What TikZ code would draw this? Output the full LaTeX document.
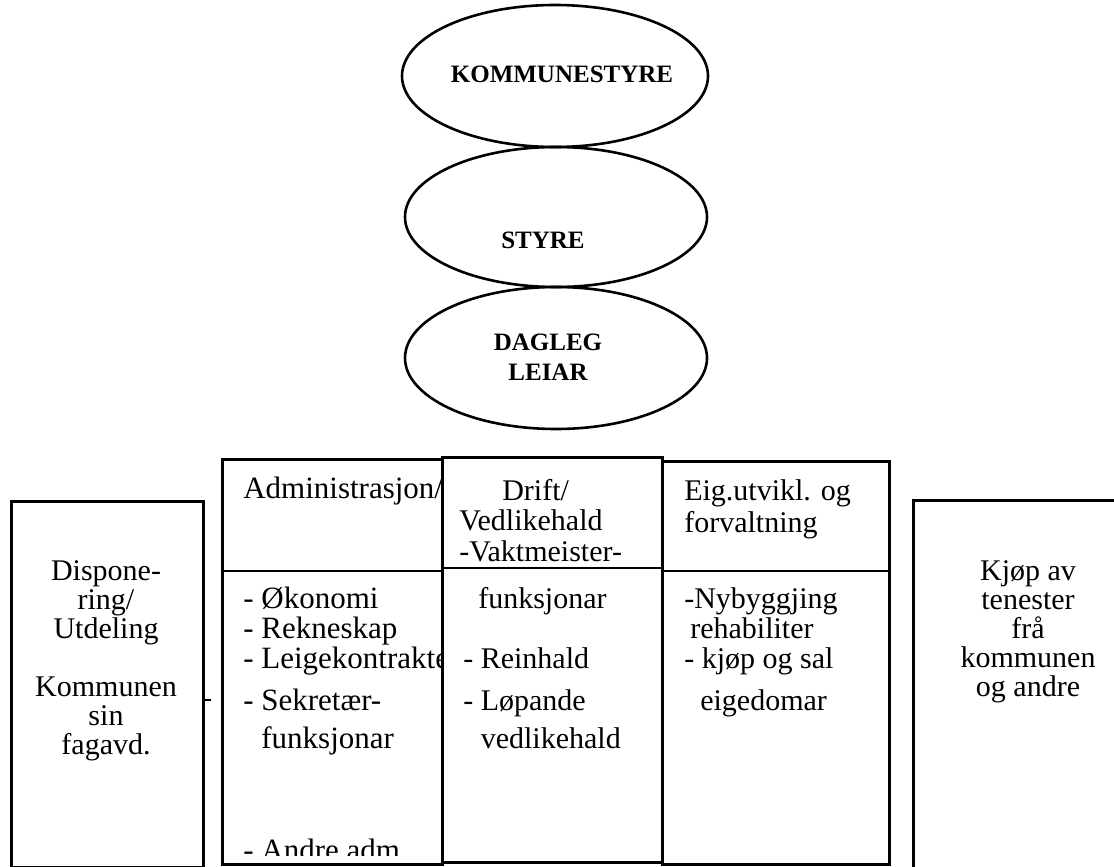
\documentclass[tikz,border=0pt]{standalone}
\usepackage{fontspec}
\setmainfont{Liberation Serif}
\usetikzlibrary{shapes.geometric}
\begin{document}
\begin{tikzpicture}[x=1pt,y=-1pt,line width=2.6pt,
  oval/.style={draw,ellipse,inner sep=0pt},
  ovallabel/.style={font=\fontsize{25}{30}\selectfont\bfseries,inner sep=0pt,align=center,anchor=base},
  frame/.style={draw,rectangle,inner sep=0pt,anchor=north west},
  txt/.style={font=\fontsize{30}{#1}\selectfont,inner sep=0pt},
  admtxt/.style={font=\fontsize{31}{#1}\selectfont,inner sep=0pt}]
\useasboundingbox (0,0) rectangle (1114,867);
\clip (0,0) rectangle (1114,867);
% ellipses
\node[oval,minimum width=306pt,minimum height=142pt] (kst) at (555,76) {};
\node[oval,minimum width=302pt,minimum height=140pt] (sty) at (556,217) {};
\node[oval,minimum width=302pt,minimum height=142pt] (dl) at (556,358) {};
\node[ovallabel] (kstl) at (562,82) {KOMMUNESTYRE};
\node[ovallabel] (styl) at (543,248) {STYRE};
\node[ovallabel] (dll) at (548,380) {DAGLEG\\LEIAR};
% side boxes
\node[frame,minimum width=192pt,minimum height=366pt] (left) at (10,500) {};
\node[frame,minimum width=240pt,minimum height=400pt] (right) at (912,499) {};
\draw (left.east |- 0,700) -- ++(6,0);
% table text
\node[admtxt=31,anchor=base west] (admh) at (242,498) {Administrasjon/};
\begin{scope}
\clip (221,458) rectangle (441,855);
\node[admtxt=30,align=left,anchor=base west] (admb) at (242,860)
  {- Økonomi\\- Rekneskap\\- Leigekontrakter\\[12pt]- Sekretær-\\[8pt]\phantom{- }funksjonar\\[82pt]- Andre adm};
\end{scope}
\node[txt=30.5,align=left,anchor=base west] (drh) at (458,561)
  {\hspace{43pt}Drift/\\Vedlikehald\\-Vaktmeister-};
\node[txt=30,align=left,anchor=base west] (drb) at (462,748)
  {\hspace{15pt}funksjonar\\[30pt]- Reinhald\\[12pt]- Løpande\\[8pt]\phantom{- }vedlikehald};
\node[txt=32,align=left,anchor=base west] (egh) at (683,532)
  {Eig.utvikl. og\\forvaltning};
\node[txt=30,align=left,anchor=base west] (egb) at (683,710)
  {-Nybyggjing\\\hspace{6pt}rehabiliter\\- kjøp og sal\\[12pt]\hspace{16pt}eigedomar};
% table frames
\node[frame,minimum width=220pt,minimum height=405pt] (adm) at (221,458) {};
\node[frame,minimum width=220pt,minimum height=405pt] (drift) at (441,456) {};
\node[frame,minimum width=227pt,minimum height=403pt] (eig) at (661,460) {};
\draw (adm.west |- 0,571) -- (adm.east |- 0,571);
\draw (drift.west |- 0,568) -- (drift.east |- 0,568);
\draw (eig.west |- 0,571) -- (eig.east |- 0,571);
% side box text
\node[txt=29,align=center,anchor=base] (disp) at (106,754)
  {Dispone-\\ring/\\Utdeling\\[29pt]Kommunen\\sin\\fagavd.};
\node[txt=29,align=center,anchor=base] (kjop) at (1028,696)
  {Kjøp av\\tenester\\frå\\kommunen\\og andre};
\end{tikzpicture}
\end{document}
